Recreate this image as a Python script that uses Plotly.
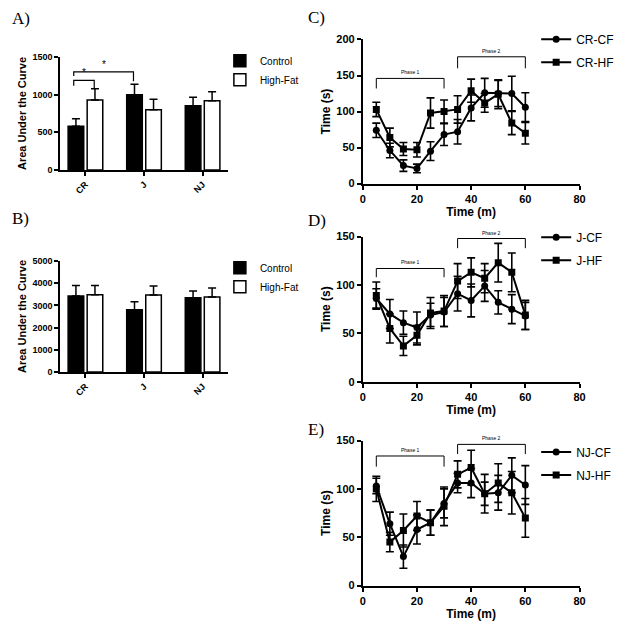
import plotly.graph_objects as go

# ---- bar panels (A, B) ----
groups = ["CR", "J", "NJ"]
aucA_control = [580, 1000, 855]
aucA_control_err = [100, 140, 110]
aucA_hf = [930, 800, 920]
aucA_hf_err = [150, 140, 120]
aucB_control = [3420, 2800, 3350]
aucB_control_err = [480, 360, 300]
aucB_hf = [3480, 3470, 3380]
aucB_hf_err = [420, 400, 400]

# ---- time course panels (C, D, E) ----
minutes = [5, 10, 15, 20, 25, 30, 35, 40, 45, 50, 55, 60]
cr_cf = [74, 46, 25, 21, 45, 68, 72, 105, 126, 125, 125, 106]
cr_cf_err = [10, 10, 8, 6, 13, 15, 17, 18, 20, 18, 24, 20]
cr_hf = [103, 64, 48, 47, 98, 100, 103, 129, 112, 124, 84, 70]
cr_hf_err = [10, 13, 9, 10, 21, 16, 19, 16, 13, 20, 16, 15]
j_cf = [86, 70, 61, 56, 69, 72, 91, 84, 99, 82, 75, 68]
j_cf_err = [10, 15, 12, 16, 12, 15, 18, 17, 16, 12, 15, 14]
j_hf = [89, 55, 37, 48, 71, 73, 104, 113, 107, 123, 113, 69]
j_hf_err = [14, 15, 10, 10, 16, 16, 18, 15, 15, 20, 20, 15]
nj_cf = [103, 64, 30, 58, 65, 85, 106, 106, 95, 96, 114, 104]
nj_cf_err = [8, 12, 12, 15, 13, 15, 10, 15, 20, 18, 18, 20]
nj_hf = [100, 45, 57, 72, 65, 82, 115, 122, 95, 106, 96, 70]
nj_hf_err = [13, 10, 17, 15, 13, 20, 14, 18, 12, 20, 22, 20]

# page has an 8px body margin, so the figure is shrunk and shifted to fit
OFF = 8
W, H = 629 - 2 * OFF, 631 - 2 * OFF
SANS = "Liberation Sans"
SERIF = "Liberation Serif"


def px(x):
    return (x - OFF) / W


def py(y):
    return 1 - (y - OFF) / H


fig = go.Figure()


def bar_pair(ctrl, ctrl_err, hf, hf_err, n, legend):
    xa = "x" if n == 1 else f"x{n}"
    ya = "y" if n == 1 else f"y{n}"
    fig.add_trace(go.Bar(
        x=groups, y=ctrl, name="Control", xaxis=xa, yaxis=ya, legend=legend,
        legendgroup=f"c{n}",
        marker=dict(color="black", line=dict(color="black", width=1.5)),
        error_y=dict(type="data", array=ctrl_err, arrayminus=[0] * len(ctrl),
                     symmetric=False, color="black", thickness=1.5, width=4)))
    fig.add_trace(go.Bar(
        x=groups, y=hf, name="High-Fat", xaxis=xa, yaxis=ya, legend=legend,
        legendgroup=f"h{n}",
        marker=dict(color="white", line=dict(color="black", width=1.5)),
        error_y=dict(type="data", array=hf_err, arrayminus=[0] * len(hf),
                     symmetric=False, color="black", thickness=1.5, width=4)))


bar_pair(aucA_control, aucA_control_err, aucA_hf, aucA_hf_err, 1, "legend")
bar_pair(aucB_control, aucB_control_err, aucB_hf, aucB_hf_err, 2, "legend2")


def time_pair(cf, cf_err, hf, hf_err, name, n, legend):
    xa, ya = f"x{n}", f"y{n}"
    for vals, err, sym, lab in [(cf, cf_err, "circle", f"{name}-CF"),
                                (hf, hf_err, "square", f"{name}-HF")]:
        fig.add_trace(go.Scatter(
            x=minutes, y=vals, name=lab, xaxis=xa, yaxis=ya, legend=legend,
            legendgroup=lab, mode="lines+markers",
            line=dict(color="black", width=2),
            marker=dict(symbol=sym, size=7, color="black"),
            error_y=dict(type="data", array=err, color="black", thickness=1.6, width=4)))


time_pair(cr_cf, cr_cf_err, cr_hf, cr_hf_err, "CR", 3, "legend3")
time_pair(j_cf, j_cf_err, j_hf, j_hf_err, "J", 4, "legend4")
time_pair(nj_cf, nj_cf_err, nj_hf, nj_hf_err, "NJ", 5, "legend5")

tick_small = dict(family=SANS, size=9, color="black", weight="bold")
tick_rot = dict(family=SANS, size=9, color="black", weight="bold")
tick_big = dict(family=SANS, size=11, color="black", weight="bold")
title_font = dict(family=SANS, size=12, color="black", weight="bold")

base = dict(showline=True, linecolor="black", linewidth=1.8, ticks="outside",
            tickcolor="black", tickwidth=1.5, ticklen=4, showgrid=False,
            zeroline=False, fixedrange=True)

layout = dict(
    width=W, height=H, margin=dict(l=0, r=0, t=0, b=0),
    plot_bgcolor="white", paper_bgcolor="white",
    barmode="group", bargap=0.35, bargroupgap=0.18,
    font=dict(family=SANS, color="black"),
)

# bar axes
bar_x_dom = [px(58), px(228)]
layout["xaxis"] = dict(base, domain=bar_x_dom, anchor="y", range=[-0.43, 2.43],
                       tickangle=-45, tickfont=tick_rot)
layout["yaxis"] = dict(base, domain=[py(167), py(52)], anchor="x", range=[0, 1500],
                       dtick=500, tickfont=tick_small,
                       title=dict(text="Area Under the Curve", font=dict(title_font, size=11), standoff=4))
layout["xaxis2"] = dict(base, domain=bar_x_dom, anchor="y2", range=[-0.43, 2.43],
                        tickangle=-45, tickfont=tick_rot)
layout["yaxis2"] = dict(base, domain=[py(373), py(260)], anchor="x2", range=[0, 5000],
                        dtick=1000, tickfont=tick_small,
                        title=dict(text="Area Under the Curve", font=dict(title_font, size=11), standoff=4))

# time axes
line_x_dom = [px(365), px(585)]
for n, (y0, y1, top, dt) in zip([3, 4, 5], [(181, 34, 200, 50), (383, 235, 150, 50), (591, 443, 150, 50)]):
    layout[f"xaxis{n}"] = dict(base, domain=line_x_dom, anchor=f"y{n}", range=[0, 80], dtick=20,
                               tickfont=tick_big,
                               title=dict(text="Time (m)", font=title_font, standoff=0))
    layout[f"yaxis{n}"] = dict(base, domain=[py(y0), py(y1)], anchor=f"x{n}", range=[0, top], dtick=dt,
                               tickfont=tick_big,
                               title=dict(text="Time (s)", font=title_font, standoff=3))

leg_common = dict(bgcolor="rgba(0,0,0,0)", itemwidth=30, xanchor="left", yanchor="top")
small_leg = dict(leg_common, tracegroupgap=0, font=dict(family=SANS, size=10, color="black"))
big_leg = dict(leg_common, tracegroupgap=4, font=dict(family=SANS, size=12, color="black"))
layout["legend"] = dict(small_leg, x=px(220), y=py(41))
layout["legend2"] = dict(small_leg, x=px(220), y=py(252))
layout["legend3"] = dict(big_leg, x=px(541), y=py(19))
layout["legend4"] = dict(big_leg, x=px(541), y=py(221))
layout["legend5"] = dict(big_leg, x=px(541), y=py(440))

fig.update_layout(**layout)

# panel letters
for lab, x, y in [("A)", 7, 13), ("B)", 7, 217), ("C)", 307, 12), ("D)", 307, 219), ("E)", 307, 432)]:
    fig.add_annotation(text=lab, x=px(x), y=py(y), xref="paper", yref="paper",
                       xanchor="left", yanchor="middle", showarrow=False,
                       font=dict(family=SERIF, size=17, color="black"))

# significance brackets in A
sig = [(-0.2, 0.15, 1190, 1120, 1080), (-0.2, 0.82, 1305, 1250, 1180)]
for x0, x1, top, leg_l, leg_r in sig:
    fig.add_shape(type="path", xref="x", yref="y",
                  path=f"M {x0},{leg_l} L {x0},{top} L {x1},{top} L {x1},{leg_r}",
                  line=dict(color="black", width=1.2))
    fig.add_annotation(text="*", x=(x0 + x1) / 2, y=top, xref="x", yref="y", yanchor="bottom",
                       showarrow=False, yshift=0, font=dict(family=SANS, size=10, color="black"))

# phase brackets
phases = [(3, 132, 146, 160, 176), (4, 108, 117, 138, 148), (5, 123, 134, 136, 146)]
for n, l1, t1, l2, t2 in phases:
    for (a, b, leg, top, txt) in [(5, 30, l1, t1, "Phase 1"), (35, 60, l2, t2, "Phase 2")]:
        fig.add_shape(type="path", xref=f"x{n}", yref=f"y{n}",
                      path=f"M {a},{leg} L {a},{top} L {b},{top} L {b},{leg}",
                      line=dict(color="black", width=1))
        fig.add_annotation(text=txt, x=(a + b) / 2, y=top, xref=f"x{n}", yref=f"y{n}",
                           yanchor="bottom", showarrow=False, yshift=1,
                           font=dict(family=SANS, size=5, color="black"))

fig.write_html("out.html")
